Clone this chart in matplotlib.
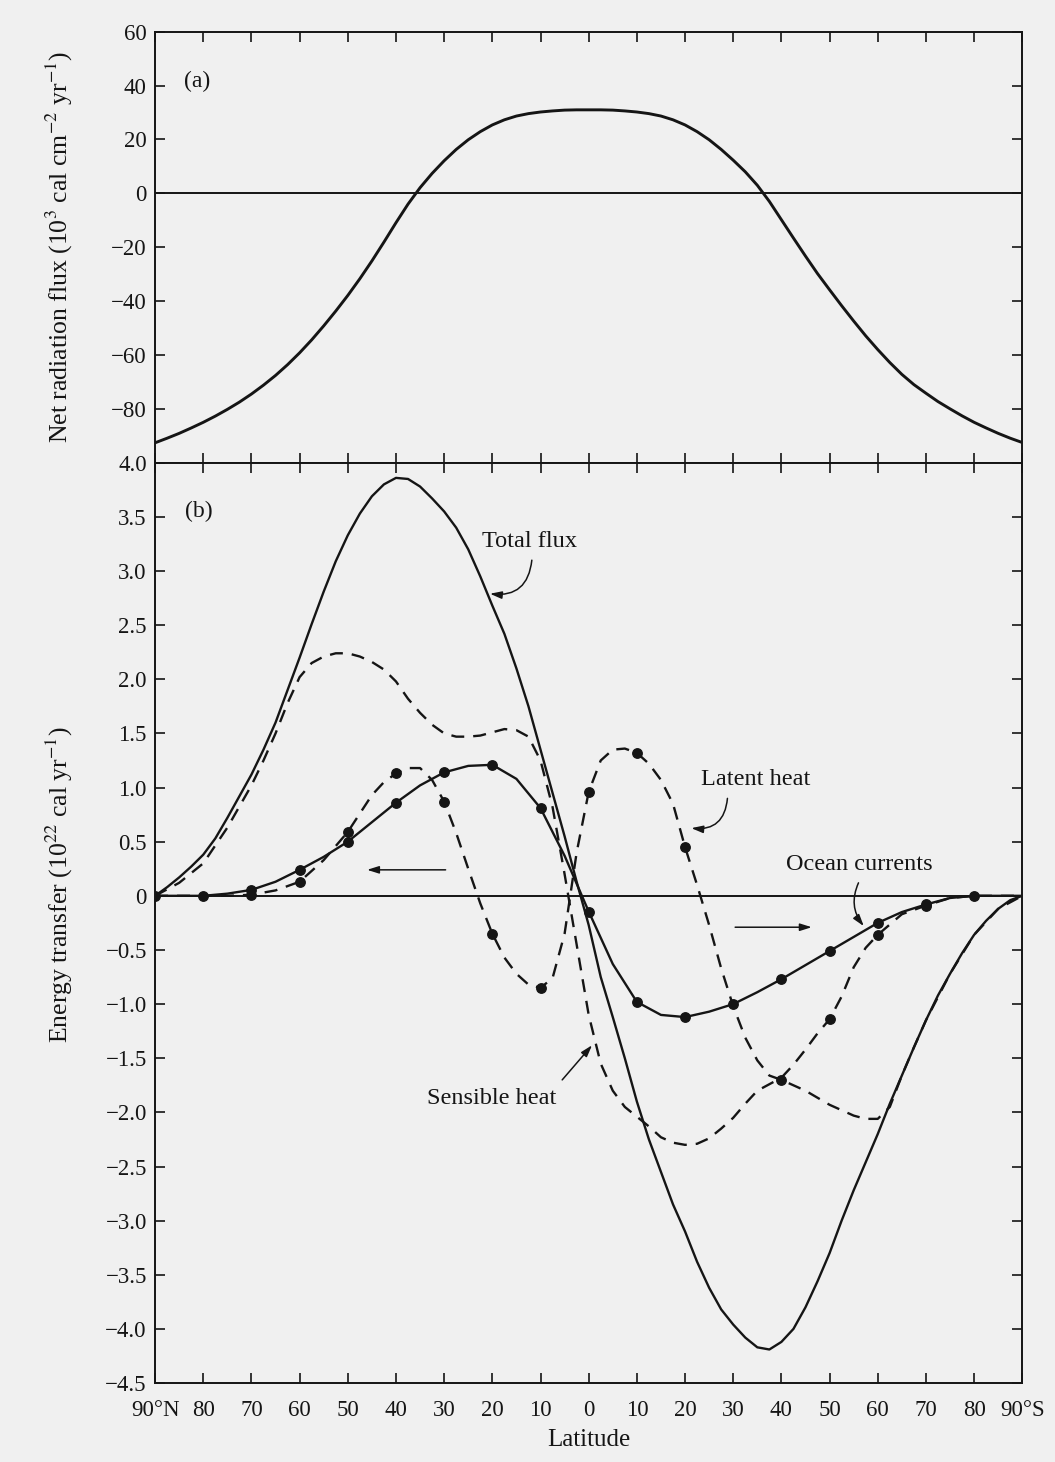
import numpy as np
import matplotlib
matplotlib.use("Agg")
import matplotlib.pyplot as plt

plt.rcParams['font.family'] = ['Liberation Serif', 'DejaVu Serif']
plt.rcParams['mathtext.fontset'] = 'stix'

# latitude: negative = north, positive = south (2.5 degree steps)
lat_fine = [-90, -87.5, -85, -82.5, -80, -77.5, -75, -72.5, -70, -67.5, -65, -62.5, -60, -57.5, -55,
            -52.5, -50, -47.5, -45, -42.5, -40, -37.5, -35, -32.5, -30, -27.5, -25, -22.5, -20,
            -17.5, -15, -12.5, -10, -7.5, -5, -2.5, 0, 2.5, 5, 7.5, 10, 12.5, 15, 17.5, 20, 22.5,
            25, 27.5, 30, 32.5, 35, 37.5, 40, 42.5, 45, 47.5, 50, 52.5, 55, 57.5, 60, 62.5, 65,
            67.5, 70, 72.5, 75, 77.5, 80, 82.5, 85, 87.5, 90]

# (a) net radiation flux, 10^3 cal cm^-2 yr^-1
net_radiation = [-92.6, -90.9, -89.1, -87.1, -85.0, -82.7, -80.2, -77.5, -74.5, -71.2, -67.6, -63.6,
                 -59.2, -54.4, -49.2, -43.7, -37.9, -31.7, -25.1, -18.1, -10.9, -4.0, 2.1, 7.4, 12.1,
                 16.3, 19.9, 22.9, 25.4, 27.3, 28.7, 29.6, 30.2, 30.6, 30.9, 31.0, 31.0,
                 31.0, 30.9, 30.6, 30.2, 29.6, 28.7, 27.3, 25.4, 22.9, 19.9, 16.3, 12.3, 8.0, 3.0,
                 -3.0, -9.8, -16.6, -23.3, -29.8, -35.8, -41.7, -47.4, -52.9, -58.0, -62.8, -67.2,
                 -71.0, -74.2, -77.3, -80.0, -82.6, -85.0, -87.1, -89.1, -90.9, -92.5]

# (b) energy transfer, 10^22 cal yr^-1
total_flux = [0.0, 0.08, 0.17, 0.27, 0.38, 0.53, 0.72, 0.92, 1.12, 1.35, 1.60, 1.90, 2.20, 2.51, 2.81,
              3.09, 3.33, 3.53, 3.69, 3.80, 3.86, 3.85, 3.78, 3.67, 3.55, 3.40, 3.20, 2.95, 2.68,
              2.42, 2.10, 1.75, 1.35, 0.95, 0.55, 0.13, -0.27,
              -0.75, -1.12, -1.50, -1.90, -2.25, -2.55, -2.85, -3.10, -3.38, -3.62, -3.82, -3.96,
              -4.08, -4.17, -4.19, -4.12, -4.00, -3.80, -3.56, -3.30, -3.00, -2.72, -2.46, -2.20,
              -1.92, -1.66, -1.40, -1.15, -0.92, -0.72, -0.53, -0.36, -0.23, -0.12, -0.04, 0.0]

ocean_lat = [-90, -85, -80, -75, -70, -65, -60, -55, -50, -45, -40, -35, -30, -25, -20, -15, -10, -5,
             0, 5, 10, 15, 20, 25, 30, 35, 40, 45, 50, 55, 60, 65, 70, 75, 80, 85, 90]
ocean = [0, 0, 0, 0.02, 0.055, 0.13, 0.24, 0.36, 0.50, 0.68, 0.86, 1.02, 1.14, 1.20, 1.21, 1.08, 0.81,
         0.37, -0.145, -0.63, -0.98, -1.10, -1.12, -1.07, -1.00, -0.89, -0.77, -0.64, -0.51, -0.38,
         -0.25, -0.15, -0.08, -0.02, 0, 0, 0]

latent_lat = [-90, -80, -75, -70, -65, -60, -55, -50, -47.5, -45, -42.5, -40, -37.5, -35, -32.5, -30,
              -27.5, -25, -22.5, -20, -17.5, -15, -12.5, -10, -7.5, -5, -2.5, 0, 2.5, 5, 7.5, 10,
              12.5, 15, 17.5, 20, 22.5, 25, 27.5, 30, 32.5, 35, 37.5, 40, 45, 50, 55, 57.5, 60,
              62.5, 65, 67.5, 70, 75, 80, 85, 90]
latent = [0, 0, 0, 0.01, 0.05, 0.13, 0.33, 0.59, 0.76, 0.93, 1.05, 1.13, 1.18, 1.18, 1.07, 0.87, 0.58,
          0.25, -0.07, -0.35, -0.57, -0.72, -0.82, -0.85, -0.76, -0.35, 0.40, 0.96, 1.25, 1.35, 1.36,
          1.32, 1.22, 1.07, 0.85, 0.45, 0.10, -0.27, -0.67, -1.02, -1.31, -1.52, -1.66, -1.70,
          -1.80, -1.93, -2.03, -2.06, -2.06, -1.95, -1.66, -1.40, -1.15, -0.72, -0.36, -0.12, 0]

sensible_lat = [-90, -85, -80, -75, -70, -67.5, -65, -62.5, -60, -57.5, -55, -52.5, -50, -47.5, -45,
                -42.5, -40, -37.5, -35, -32.5, -30, -27.5, -25, -22.5, -20, -17.5, -15, -12.5, -10,
                -7.5, -5, -2.5, 0, 2.5, 5, 7.5, 10, 12.5, 15, 17.5, 20, 22.5, 25, 27.5, 30, 32.5,
                35, 37.5, 40, 42.5, 45, 47.5, 50, 52.5, 55, 57.5, 60, 65, 70, 75, 80, 90]
sensible = [0, 0.12, 0.30, 0.63, 1.02, 1.25, 1.50, 1.78, 2.02, 2.15, 2.21, 2.24, 2.24, 2.21, 2.16,
            2.09, 1.98, 1.82, 1.69, 1.58, 1.50, 1.47, 1.47, 1.48, 1.51, 1.54, 1.53, 1.47, 1.25,
            0.82, 0.20, -0.45, -1.10, -1.55, -1.80, -1.95, -2.04, -2.13, -2.23, -2.28, -2.30,
            -2.29, -2.24, -2.15, -2.05, -1.92, -1.80, -1.74, -1.68, -1.56, -1.42, -1.27, -1.14,
            -0.93, -0.66, -0.48, -0.36, -0.17, -0.09, -0.02, 0, 0]

# latitudes where the data points are marked
ocean_dot_lat = [-90, -80, -70, -60, -50, -40, -30, -20, -10, 0, 10, 20, 30, 40, 50, 60, 70, 80]
latent_dot_lat = [-70, -60, -50, -40, -30, -20, -10, 0, 10, 20, 40]
sensible_dot_lat = [50, 60, 70]

xtick_labels = ['90°N', '80', '70', '60', '50', '40', '30', '20', '10', '0',
                '10', '20', '30', '40', '50', '60', '70', '80', '90°S']

ink = '#151515'
paper = '#f0f0f0'
dash = (0, (5.5, 3.8))


def minus(v, fmt):
    s = fmt.format(v)
    if s in ('0.0', '-0.0', '-0'):
        s = '0'
    return s.replace('-', '\u2212')


fig = plt.figure(figsize=(10.55, 14.62), dpi=100, facecolor=paper)
ax1 = fig.add_axes([0.147, 0.6835, 0.822, 0.2948], facecolor=paper)
ax2 = fig.add_axes([0.147, 0.054, 0.822, 0.6295], facecolor=paper)

for ax in (ax1, ax2):
    ax.set_xlim(-90, 90)
    ax.set_xticks(np.arange(-90, 91, 10))
    ax.tick_params(direction='in', length=7, width=1.2, labelsize=16.5, top=True, right=True,
                   colors=ink, pad=6)
    for sp in ax.spines.values():
        sp.set_linewidth(1.4)
        sp.set_color(ink)
    ax.axhline(0, color=ink, lw=1.4, zorder=1)

# panel (a)
ax1.plot(lat_fine, net_radiation, color=ink, lw=2.1)
ax1.set_ylim(-100, 60)
yt1 = [-80, -60, -40, -20, 0, 20, 40, 60]
ax1.set_yticks(yt1)
ax1.set_yticklabels([minus(v, '{:d}') for v in yt1])
ax1.tick_params(labelbottom=False)
ax1.set_ylabel('Net radiation flux (10$^3$ cal cm$^{-2}$ yr$^{-1}$)', fontsize=18.5, color=ink)
ax1.yaxis.set_label_coords(-0.092, 0.5)
ax1.text(-81.2, 41.5, '(a)', fontsize=17, ha='center', va='center', color=ink)

# panel (b)
ax2.plot(lat_fine, total_flux, color=ink, lw=1.7, zorder=3)
ax2.plot(ocean_lat, ocean, color=ink, lw=1.7, zorder=3)
ax2.plot(latent_lat, latent, color=ink, lw=1.7, linestyle=dash, zorder=3)
ax2.plot(sensible_lat, sensible, color=ink, lw=1.7, linestyle=dash, zorder=3)

ocean_map = dict(zip(ocean_lat, ocean))
latent_map = dict(zip(latent_lat, latent))
sensible_map = dict(zip(sensible_lat, sensible))
ax2.plot(ocean_dot_lat, [ocean_map[v] for v in ocean_dot_lat], 'o', color=ink, ms=6.8, zorder=4)
ax2.plot(latent_dot_lat, [latent_map[v] for v in latent_dot_lat], 'o', color=ink, ms=6.8, zorder=4)
ax2.plot(sensible_dot_lat, [sensible_map[v] for v in sensible_dot_lat], 'o', color=ink, ms=6.8, zorder=4)

ax2.set_ylim(-4.5, 4.0)
yt2 = np.arange(-4.5, 4.01, 0.5)
ax2.set_yticks(yt2)
ax2.set_yticklabels([minus(v, '{:.1f}') for v in yt2])
ax2.set_xticklabels(xtick_labels)
ax2.tick_params(axis='x', pad=12)
ax2.set_xlabel('Latitude', fontsize=18, color=ink, labelpad=6)
ax2.set_ylabel('Energy transfer (10$^{22}$ cal yr$^{-1}$)', fontsize=18.5, color=ink)
ax2.yaxis.set_label_coords(-0.092, 0.541)
ax2.text(-81.0, 3.55, '(b)', fontsize=17, ha='center', va='center', color=ink)

arrow = dict(arrowstyle='-|>,head_length=0.7,head_width=0.22', color=ink, lw=1.1,
             shrinkA=0, shrinkB=0)

ax2.text(-12.3, 3.27, 'Total flux', fontsize=17.5, ha='center', va='center', color=ink)
ax2.annotate('', xy=(-20.5, 2.79), xytext=(-11.8, 3.10),
             arrowprops=dict(arrow, connectionstyle='arc3,rad=-0.5'))

ax2.text(34.6, 1.07, 'Latent heat', fontsize=17.5, ha='center', va='center', color=ink)
ax2.annotate('', xy=(21.3, 0.625), xytext=(28.8, 0.90),
             arrowprops=dict(arrow, connectionstyle='arc3,rad=-0.5'))

ax2.text(56.2, 0.29, 'Ocean currents', fontsize=17.5, ha='center', va='center', color=ink)
ax2.annotate('', xy=(57.1, -0.28), xytext=(56.0, 0.12),
             arrowprops=dict(arrow, connectionstyle='arc3,rad=0.3'))

ax2.text(-20.1, -1.87, 'Sensible heat', fontsize=17.5, ha='center', va='center', color=ink)
ax2.annotate('', xy=(0.7, -1.38), xytext=(-5.5, -1.70), arrowprops=arrow)

# direction arrows
ax2.annotate('', xy=(-46.0, 0.24), xytext=(-29.7, 0.24), arrowprops=arrow)
ax2.annotate('', xy=(46.3, -0.29), xytext=(30.4, -0.29), arrowprops=arrow)

fig.savefig('out.png', dpi=100, facecolor=fig.get_facecolor())
